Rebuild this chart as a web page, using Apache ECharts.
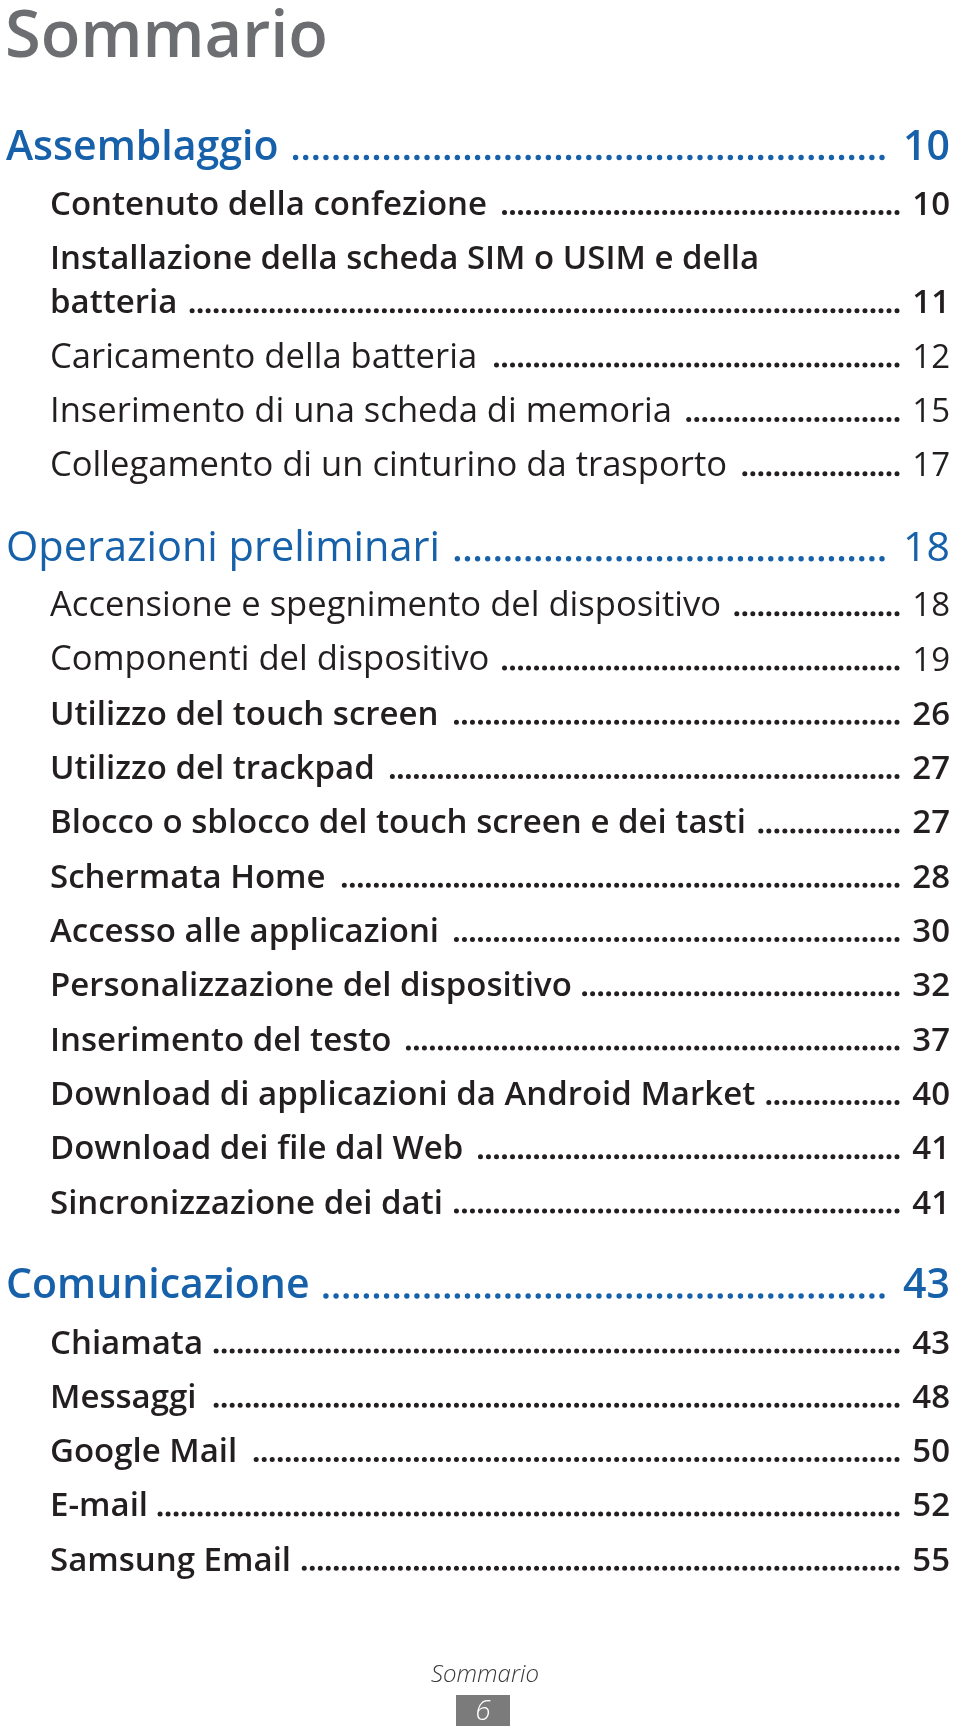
<!DOCTYPE html>
<html><head><meta charset="utf-8">
<script src="https://cdn.jsdelivr.net/npm/echarts@6/dist/echarts.min.js"></script>
<style>html,body{margin:0;padding:0;background:#fff}#c{width:960px;height:1731px}</style>
</head><body><div id="c"></div>
<script>
// ---- data ----
const pageTitle = 'Sommario';
const chapterTitles = ['Assemblaggio', 'Operazioni preliminari', 'Comunicazione'];
const chapterPages = [10, 18, 43];
const assemblaggioEntries = [
  'Contenuto della confezione',
  'Installazione della scheda SIM o USIM e della\nbatteria',
  'Caricamento della batteria',
  'Inserimento di una scheda di memoria',
  'Collegamento di un cinturino da trasporto'
];
const assemblaggioPages = [10, 11, 12, 15, 17];
const preliminariEntries = [
  'Accensione e spegnimento del dispositivo',
  'Componenti del dispositivo',
  'Utilizzo del touch screen',
  'Utilizzo del trackpad',
  'Blocco o sblocco del touch screen e dei tasti',
  'Schermata Home',
  'Accesso alle applicazioni',
  'Personalizzazione del dispositivo',
  'Inserimento del testo',
  'Download di applicazioni da Android Market',
  'Download dei file dal Web',
  'Sincronizzazione dei dati'
];
const preliminariPages = [18, 19, 26, 27, 27, 28, 30, 32, 37, 40, 41, 41];
const comunicazioneEntries = ['Chiamata', 'Messaggi', 'Google Mail', 'E-mail', 'Samsung Email'];
const comunicazionePages = [43, 48, 50, 52, 55];
const footerLabel = 'Sommario';
const footerPage = '6';

// ---- styling / layout ----
const FONT = '"Open Sans", "Noto Sans", sans-serif';
const BLUE = '#1661aa', DARK = '#231f20', GREY = '#6d6e71';
const lightRows = new Set(['Operazioni preliminari', 'Caricamento della batteria', 'Inserimento di una scheda di memoria',
  'Collegamento di un cinturino da trasporto', 'Accensione e spegnimento del dispositivo', 'Componenti del dispositivo']);
const L = {
  headX: 6, subX: 50, numRight: 950,
  headSize: 41, lightHeadSize: 41.5, subSize: 33, lightSubSize: 34.6,
  firstHead: 160, headToEntry: 55, pitch: 54.3, wrap: 44, entryToHead: 85,
  subDotEnd: 897, headDotEnd: 882, subDotGap: 12, headDotGap: 16
};
const chapterEntries = [assemblaggioEntries, preliminariEntries, comunicazioneEntries];
const chapterEntryPages = [assemblaggioPages, preliminariPages, comunicazionePages];

const mctx = document.createElement('canvas').getContext('2d');
function fontStr(weight, size, style) { return (style || 'normal') + ' ' + weight + ' ' + size + 'px ' + FONT; }
function measure(t, f) { mctx.font = f; return mctx.measureText(t).width; }
const els = [];
function addText(text, x, baseline, size, weight, color, align, style) {
  const f = fontStr(weight, size, style);
  els.push({ type: 'text', silent: true, style: { text: text, x: x, y: baseline - 0.285 * size, font: f, fill: color,
    textAlign: align || 'left', textVerticalAlign: 'middle' } });
  return measure(text, f);
}
function addDots(fromX, toX, y, color, r, step) {
  els.push({ type: 'line', silent: true, shape: { x1: toX, y1: y, x2: fromX, y2: y },
    style: { stroke: color, lineWidth: r * 2, lineDash: [0.01, step], lineCap: 'round' } });
}

addText(pageTitle, 5, 57, 65, 600, GREY);

let y = L.firstHead;
chapterTitles.forEach(function (title, ci) {
  if (ci > 0) y += L.entryToHead;
  const light = lightRows.has(title);
  const hw = light ? 400 : 600;
  const hs = light ? L.lightHeadSize : L.headSize;
  const w = addText(title, L.headX, y, hs, hw, BLUE);
  addDots(L.headX + w + L.headDotGap, L.headDotEnd, y - 2.5, BLUE, 2.7, 10.1);
  addText(String(chapterPages[ci]), L.numRight, y, L.headSize, hw, BLUE, 'right');
  y += L.headToEntry;
  chapterEntries[ci].forEach(function (entry, ei) {
    if (ei > 0) y += L.pitch;
    const light = lightRows.has(entry);
    const sw = light ? 500 : 600;
    const ss = light ? L.lightSubSize : L.subSize;
    const lines = entry.split('\n');
    let lw = 0;
    lines.forEach(function (ln, li) {
      if (li > 0) y += L.wrap;
      lw = addText(ln, L.subX, y, ss, sw, DARK);
    });
    addDots(L.subX + lw + L.subDotGap, L.subDotEnd, y - 2.5, DARK, 2.5, 8);
    addText(String(chapterEntryPages[ci][ei]), L.numRight, y, L.subSize, sw, DARK, 'right');
  });
});

// footer
addText(footerLabel, 485, 1682, 24, 300, '#3a3a3a', 'center', 'italic');
els.push({ type: 'rect', silent: true, shape: { x: 456, y: 1695, width: 54, height: 31 }, style: { fill: '#7b7b7b' } });
addText(footerPage, 483, 1720, 28, 300, '#ffffff', 'center', 'italic');

const chart = echarts.init(document.getElementById('c'), null, { renderer: 'canvas' });
chart.setOption({ backgroundColor: '#ffffff', animation: false, graphic: { elements: els } });
</script></body></html>
